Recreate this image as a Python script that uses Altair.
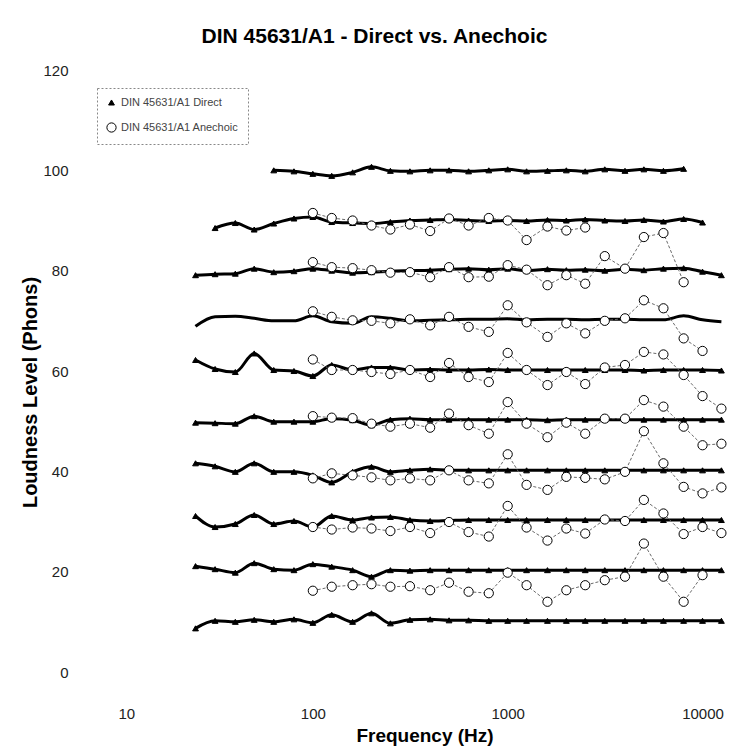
import altair as alt
import pandas as pd

N = None
freqs = [25, 31.5, 40, 50, 63, 80, 100, 125, 160, 200, 250, 315, 400, 500,
         630, 800, 1000, 1250, 1600, 2000, 2500, 3150, 4000, 5000, 6300, 8000, 10000, 12500]
anech_freqs = freqs[6:]

x_ticks = [10, 100, 1000, 10000]
y_ticks = [0, 20, 40, 60, 80, 100, 120]

label_direct = "DIN 45631/A1 Direct"
label_anech = "DIN 45631/A1 Anechoic"

# Direct (25 Hz .. 12.5 kHz)
direct_100 = [N, N, N, N, 100.0, 99.8, 99.3, 98.9, 99.6, 100.7, 99.9, 99.8, 100.0, 100.0,
              99.8, 100.0, 100.2, 99.8, 99.9, 100.0, 99.8, 100.2, 99.9, 100.2, 99.9, 100.3, N, N]
direct_90 = [N, 88.5, 89.5, 88.2, 89.4, 90.4, 90.7, 89.7, 89.5, 89.4, 89.7, 90.0, 90.1, 90.2,
             90.0, 89.9, 90.0, 89.9, 90.1, 90.0, 90.2, 90.0, 89.9, 90.1, 89.8, 90.3, 89.6, N]
direct_80 = [79.1, 79.3, 79.4, 80.4, 79.7, 79.9, 80.4, 80.0, 79.6, 79.7, 79.9, 80.0, 80.1, 80.3,
             80.4, 80.2, 80.4, 80.0, 80.3, 80.1, 80.2, 80.0, 80.3, 80.1, 80.4, 80.5, 79.8, 79.1]
direct_70 = [68.9, 70.8, 70.9, 70.5, 70.0, 70.0, 71.0, 69.8, 69.5, 70.8, 70.5, 70.0, 70.1, 70.2,
             70.3, 70.3, 70.4, 70.2, 70.3, 70.3, 70.2, 70.3, 70.3, 70.2, 70.2, 71.0, 70.2, 69.8]
direct_60 = [62.2, 60.4, 59.8, 63.5, 60.2, 60.0, 59.0, 61.2, 60.2, 60.7, 60.7, 60.2, 60.3, 60.2,
             60.2, 60.3, 60.2, 60.2, 60.2, 60.2, 60.2, 60.2, 60.2, 60.1, 60.2, 60.2, 60.2, 60.1]
direct_50 = [49.7, 49.6, 49.5, 51.0, 49.9, 49.9, 49.9, 50.5, 50.2, 49.2, 50.3, 50.5, 50.3, 50.3,
             50.3, 50.3, 50.3, 50.3, 50.2, 50.3, 50.3, 50.3, 50.3, 50.3, 50.3, 50.3, 50.3, 50.3]
direct_40 = [41.6, 41.0, 39.9, 41.6, 39.9, 39.9, 39.2, 37.8, 39.9, 40.9, 39.9, 40.2, 40.4, 40.2,
             40.2, 40.2, 40.2, 40.2, 40.2, 40.2, 40.2, 40.2, 40.2, 40.2, 40.2, 40.2, 40.2, 40.2]
direct_30 = [31.1, 28.9, 29.5, 31.3, 29.5, 30.1, 28.9, 31.1, 30.3, 30.8, 30.9, 30.3, 30.1, 30.2,
             30.3, 30.3, 30.3, 30.3, 30.3, 30.3, 30.3, 30.3, 30.3, 30.3, 30.3, 30.3, 30.3, 30.3]
direct_20 = [21.1, 20.5, 19.8, 21.7, 20.5, 20.3, 21.5, 21.0, 20.3, 19.0, 20.3, 20.2, 20.3, 20.3,
             20.3, 20.3, 20.3, 20.3, 20.3, 20.3, 20.3, 20.3, 20.3, 20.3, 20.3, 20.3, 20.3, 20.3]
direct_10 = [8.7, 10.2, 10.0, 10.4, 10.0, 10.5, 9.8, 11.4, 10.0, 11.7, 9.7, 10.4, 10.5, 10.3,
             10.3, 10.2, 10.2, 10.2, 10.2, 10.2, 10.2, 10.2, 10.2, 10.2, 10.2, 10.2, 10.2, 10.2]

# Anechoic (100 Hz .. 12.5 kHz)
anech_90 = [91.5, 90.5, 90.0, 89.0, 88.2, 89.2, 87.9, 90.4, 89.0, 90.5, 90.0, 86.1, 88.8, 88.0,
            88.6, N, N, N, N, N, N, N]
anech_80 = [81.7, 80.7, 80.5, 80.1, 79.6, 79.7, 78.7, 80.7, 78.7, 78.8, 81.1, 80.2, 77.1, 79.1,
            77.4, 82.9, 80.4, 86.7, 87.5, 77.7, N, N]
anech_70 = [71.9, 70.8, 70.1, 70.0, 69.5, 70.3, 69.1, 70.8, 68.8, 67.8, 73.1, 69.7, 66.8, 69.5,
            67.5, 70.0, 70.5, 74.1, 72.5, 66.5, 64.0, N]
anech_60 = [62.3, 60.2, 60.2, 59.8, 59.4, 60.2, 58.8, 61.6, 58.8, 57.8, 63.6, 60.2, 57.2, 59.8,
            57.4, 60.7, 61.2, 63.8, 63.3, 59.2, 55.0, 52.5]
anech_50 = [51.0, 50.7, 50.6, 49.5, 48.9, 49.5, 48.7, 51.5, 49.2, 47.5, 53.8, 49.5, 46.8, 49.7,
            47.5, 50.5, 50.5, 54.2, 52.9, 48.9, 45.2, 45.5]
anech_40 = [38.6, 39.6, 39.2, 38.8, 38.2, 38.6, 38.2, 40.2, 38.2, 37.6, 43.4, 37.3, 36.3, 38.9,
            38.7, 38.4, 39.9, 48.0, 41.6, 36.9, 35.6, 36.8]
anech_30 = [28.9, 28.4, 28.8, 28.6, 28.1, 28.9, 27.7, 29.9, 27.9, 27.0, 33.1, 28.8, 26.2, 28.6,
            27.6, 30.4, 30.1, 34.3, 31.6, 27.5, 28.9, 27.7]
anech_20 = [16.2, 17.0, 17.3, 17.5, 17.0, 17.1, 16.3, 17.8, 16.0, 15.7, 19.8, 17.3, 14.0, 16.3,
            17.3, 18.3, 19.0, 25.6, 19.0, 14.0, 19.3, N]

direct_sets = {100: direct_100, 90: direct_90, 80: direct_80, 70: direct_70, 60: direct_60,
               50: direct_50, 40: direct_40, 30: direct_30, 20: direct_20, 10: direct_10}
anech_sets = {90: anech_90, 80: anech_80, 70: anech_70, 60: anech_60,
              50: anech_50, 40: anech_40, 30: anech_30, 20: anech_20}

rows = []
for lvl, vals in direct_sets.items():
    for f, v in zip(freqs, vals):
        if v is not None:
            rows.append({"series": label_direct, "level": lvl, "freq": f, "value": v, "order": 0})
for lvl, vals in anech_sets.items():
    for f, v in zip(anech_freqs, vals):
        if v is not None:
            rows.append({"series": label_anech, "level": lvl, "freq": f, "value": v, "order": 1})
df = pd.DataFrame(rows)

FONT = "Liberation Sans"

x_enc = alt.X("freq:Q", scale=alt.Scale(type="log", domain=[10, 14000], nice=False),
              axis=alt.Axis(values=x_ticks, format="d", title="Frequency (Hz)",
                            labelPadding=34, titlePadding=5, labelFontSize=15,
                            titleFontSize=19, titleFontWeight="bold"))
y_enc = alt.Y("value:Q", scale=alt.Scale(domain=[0, 120], nice=False),
              axis=alt.Axis(values=y_ticks, title="Loudness Level (Phons)",
                            labelPadding=50, labelFontSize=15, titleFontSize=20,
                            titleFontWeight="bold", titleX=-88, titleY=322,
                            titleBaseline="middle", titleAlign="center"))

base = alt.Chart(df)

direct_lines = base.transform_filter(alt.datum.series == label_direct).mark_line(
    color="black", strokeWidth=3, interpolate="monotone"
).encode(x=x_enc, y=y_enc, detail="level:N")

anech_lines = base.transform_filter(alt.datum.series == label_anech).mark_line(
    color="#6a6a6a", strokeWidth=1, strokeDash=[3, 2]
).encode(x=x_enc, y=y_enc, detail="level:N")

dom = [label_direct, label_anech]


def leg():
    return alt.Legend(title=None, orient="none", legendX=-21, legendY=18, direction="vertical")


points = base.transform_filter(
    (alt.datum.series == label_anech) | (alt.datum.level != 70)
).mark_point(filled=True, strokeWidth=1, opacity=1).encode(
    x=x_enc, y=y_enc,
    shape=alt.Shape("series:N", scale=alt.Scale(domain=dom, range=["triangle-up", "circle"]),
                    legend=leg()),
    fill=alt.Fill("series:N", scale=alt.Scale(domain=dom, range=["black", "white"]),
                  legend=leg()),
    stroke=alt.Stroke("series:N", scale=alt.Scale(domain=dom, range=["black", "black"]),
                      legend=leg()),
    size=alt.Size("series:N", scale=alt.Scale(domain=dom, range=[34, 85]),
                  legend=leg()),
    order=alt.Order("order:Q"),
)

chart = alt.layer(direct_lines, anech_lines, points).properties(
    width=613, height=602,
    autosize=alt.AutoSizeParams(type="none"),
    padding={"left": 118, "top": 70, "right": 12, "bottom": 79},
    title=alt.Title("DIN 45631/A1 - Direct vs. Anechoic", fontSize=21, fontWeight="bold",
                    font=FONT, color="black", offset=16, dx=-50, anchor="middle"),
).configure_view(stroke=None).configure_axis(
    domain=False, ticks=False, grid=False, labelFont=FONT, titleFont=FONT,
    labelColor="#222", titleColor="black"
).configure_legend(
    labelFont=FONT, labelFontSize=11, labelColor="#444", strokeColor="#888",
    strokeDash=[2, 2], fillColor="white", padding=9, rowPadding=12,
    symbolStrokeWidth=1, labelLimit=200
)

chart.save("out.html", embed_options={"renderer": "svg", "actions": False})
